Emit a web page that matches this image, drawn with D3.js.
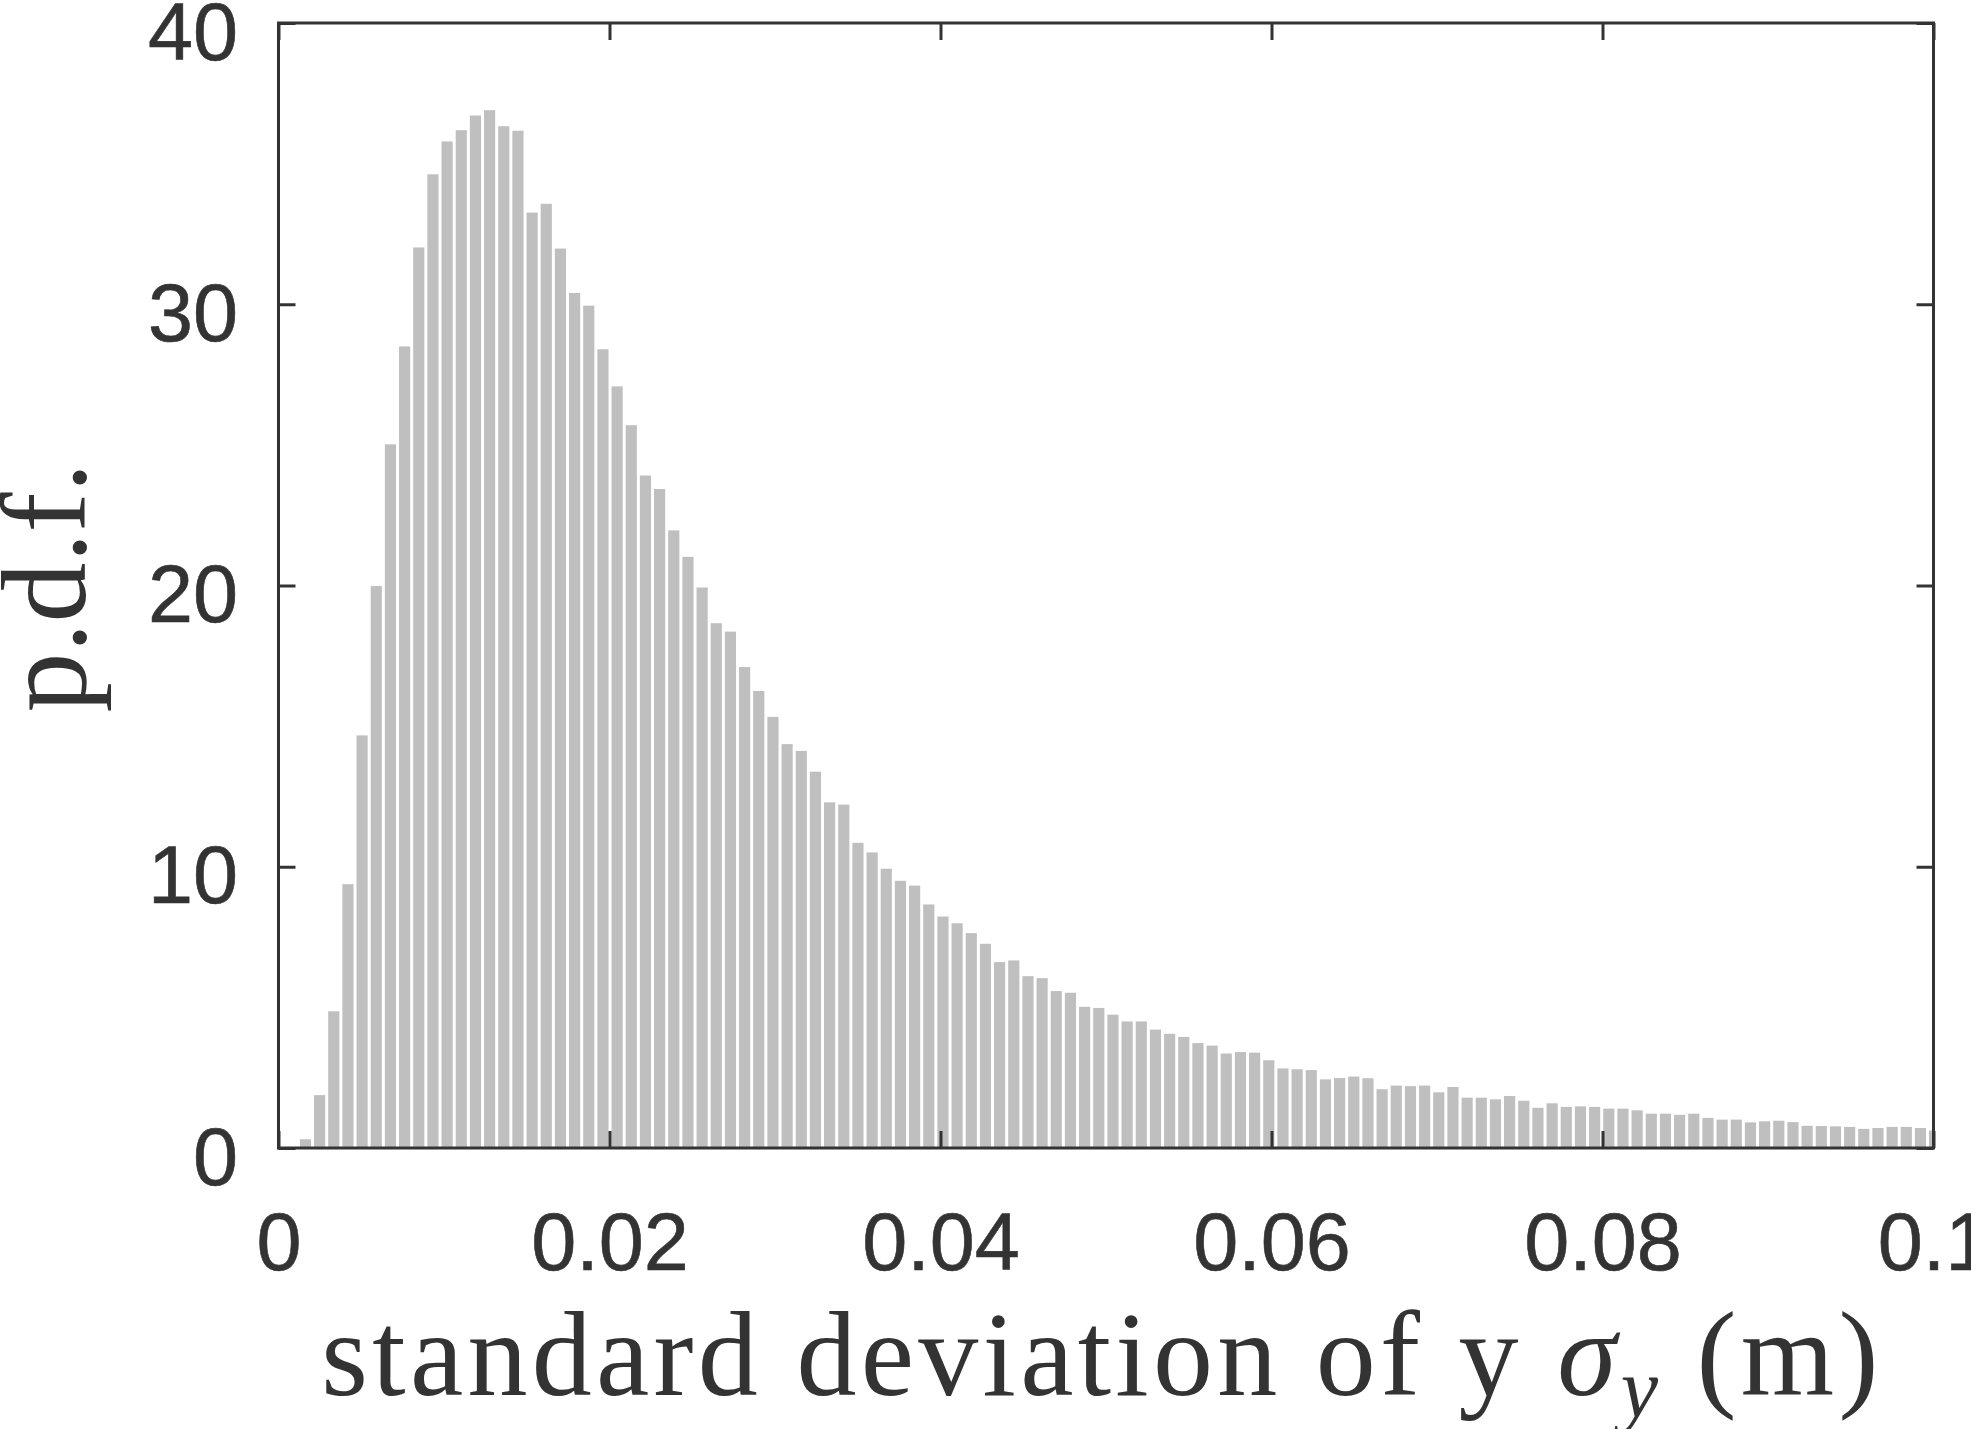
<!DOCTYPE html>
<html>
<head>
<meta charset="utf-8">
<script src="https://cdn.jsdelivr.net/npm/d3@7"></script>
<style>
  html, body { margin: 0; padding: 0; background: #fff; }
  .tick text { font-family: "Liberation Sans", Arial, Helvetica, sans-serif; }
  .label { font-family: "Liberation Serif", "Times New Roman", serif; fill: #333; }
</style>
</head>
<body>
<svg class="mainSvg"></svg>
<script>
// ===========================================================================
//     data area
// ===========================================================================
// histogram of sigma_y, first bin edge and bin width (m)
const binStart = 0.0012;
const binWidth = 0.000856;

// p.d.f. per bin
const pdfValues = [
  0.31, 1.88, 4.86, 9.38, 14.67, 19.98, 25.02, 28.5, 32.02, 34.62,
  35.79, 36.19, 36.71, 36.9, 36.33, 36.17, 33.26, 33.57, 31.98, 30.4,
  29.95, 28.4, 27.08, 25.7, 23.91, 23.43, 21.96, 21.02, 19.93, 18.66,
  18.36, 17.1, 16.25, 15.33, 14.36, 14.12, 13.38, 12.29, 12.21, 10.85,
  10.51, 9.93, 9.5, 9.33, 8.66, 8.23, 7.99, 7.64, 7.26, 6.61,
  6.67, 6.11, 6.04, 5.58, 5.52, 5.02, 4.98, 4.74, 4.5, 4.5,
  4.21, 4.06, 3.95, 3.73, 3.64, 3.36, 3.41, 3.39, 3.12, 2.83,
  2.8, 2.77, 2.44, 2.49, 2.54, 2.48, 2.09, 2.22, 2.2, 2.22,
  1.98, 2.17, 1.79, 1.79, 1.73, 1.85, 1.68, 1.43, 1.59, 1.46,
  1.48, 1.46, 1.4, 1.4, 1.34, 1.22, 1.22, 1.18, 1.22, 1.07,
  1.01, 1.01, 0.91, 0.95, 0.97, 0.92, 0.79, 0.78, 0.77, 0.75,
  0.68, 0.71, 0.75, 0.75, 0.71, 0.62,
];

const xDomain = [0, 0.1];
const yDomain = [0, 40];
const xTicks = [0, 0.02, 0.04, 0.06, 0.08, 0.1];
const xTickLabels = ['0', '0.02', '0.04', '0.06', '0.08', '0.1'];
const yTicks = [0, 10, 20, 30, 40];

const xLabel = 'standard deviation of y ';
const yLabel = 'p.d.f.';

// ===========================================================================
//      layout
// ===========================================================================
const initWidth = 1971;
const initHeight = 1429;
const margin = { top: 23, right: 37.5, bottom: 281, left: 278.5 };
const width = initWidth - margin.left - margin.right;
const height = initHeight - margin.top - margin.bottom;
const tickLen = 17;
const barGap = 3;
const ink = '#333333';
const barColor = '#bfbfbf';

const svg = d3.select('.mainSvg')
  .attr('width', initWidth)
  .attr('height', initHeight);

const g = svg.append('g')
  .attr('transform', `translate(${margin.left},${margin.top})`);

const x = d3.scaleLinear().domain(xDomain).range([0, width]);
const y = d3.scaleLinear().domain(yDomain).range([height, 0]);

g.append('clipPath')
  .attr('id', 'plotClip')
  .append('rect')
  .attr('width', width)
  .attr('height', height);

// ===========================================================================
//      draw bars
// ===========================================================================
g.append('g')
  .attr('clip-path', 'url(#plotClip)')
  .selectAll('rect')
  .data(pdfValues)
  .enter()
  .append('rect')
  .attr('fill', barColor)
  .attr('x', (d, i) => x(binStart + i * binWidth) + barGap / 2)
  .attr('width', x(binWidth) - x(0) - barGap)
  .attr('y', d => y(d))
  .attr('height', d => y(0) - y(d));

// ===========================================================================
//      axes (ticks inside, on all four sides)
// ===========================================================================
function styleAxis(sel) {
  sel.select('.domain').remove();
  sel.selectAll('.tick line')
    .attr('stroke', ink)
    .attr('stroke-width', 3);
  sel.selectAll('.tick text')
    .attr('fill', ink)
    .attr('font-size', 81)
    .attr('stroke', ink)
    .attr('stroke-width', 0.6);
}

g.append('g')
  .attr('transform', `translate(0,${height})`)
  .call(d3.axisBottom(x).tickValues(xTicks)
    .tickFormat((d, i) => xTickLabels[i])
    .tickSizeInner(-tickLen).tickSizeOuter(0))
  .call(styleAxis)
  .call(sel => sel.selectAll('.tick text')
    .attr('y', 122).attr('dy', 0));

g.append('g')
  .call(d3.axisTop(x).tickValues(xTicks)
    .tickFormat('').tickSizeInner(-tickLen).tickSizeOuter(0))
  .call(styleAxis);

g.append('g')
  .call(d3.axisLeft(y).tickValues(yTicks)
    .tickFormat(d3.format('d'))
    .tickSizeInner(-tickLen).tickSizeOuter(0))
  .call(styleAxis)
  .call(sel => sel.selectAll('.tick text')
    .attr('x', -40.5).attr('dy', 36));

g.append('g')
  .attr('transform', `translate(${width},0)`)
  .call(d3.axisRight(y).tickValues(yTicks)
    .tickFormat('').tickSizeInner(-tickLen).tickSizeOuter(0))
  .call(styleAxis);

// box
g.append('rect')
  .attr('width', width)
  .attr('height', height)
  .attr('fill', 'none')
  .attr('stroke', ink)
  .attr('stroke-width', 3);

// ===========================================================================
//      axis labels
// ===========================================================================
const xl = svg.append('text')
  .attr('class', 'label')
  .attr('x', margin.left + width / 2 - 4)
  .attr('y', 1395)
  .attr('text-anchor', 'middle')
  .attr('font-size', 120);

xl.append('tspan').text(xLabel);
xl.append('tspan').attr('font-style', 'italic').text('σ');
xl.append('tspan').attr('font-style', 'italic')
  .attr('font-size', 84).attr('dy', 22).text('y');
xl.append('tspan').attr('dy', -22).text(' (m)');

// stretch spacing to match the wider original face
const targetWidth = 1557;
const natural = xl.node().getComputedTextLength();
const nChars = (xLabel + 'σy (m)').length;
xl.attr('letter-spacing', (targetWidth - natural) / (nChars - 1));

svg.append('text')
  .attr('class', 'label')
  .attr('transform', `translate(85,${margin.top + height / 2 + 2}) rotate(-90)`)
  .attr('text-anchor', 'middle')
  .attr('font-size', 120)
  .text(yLabel);
</script>
</body>
</html>
